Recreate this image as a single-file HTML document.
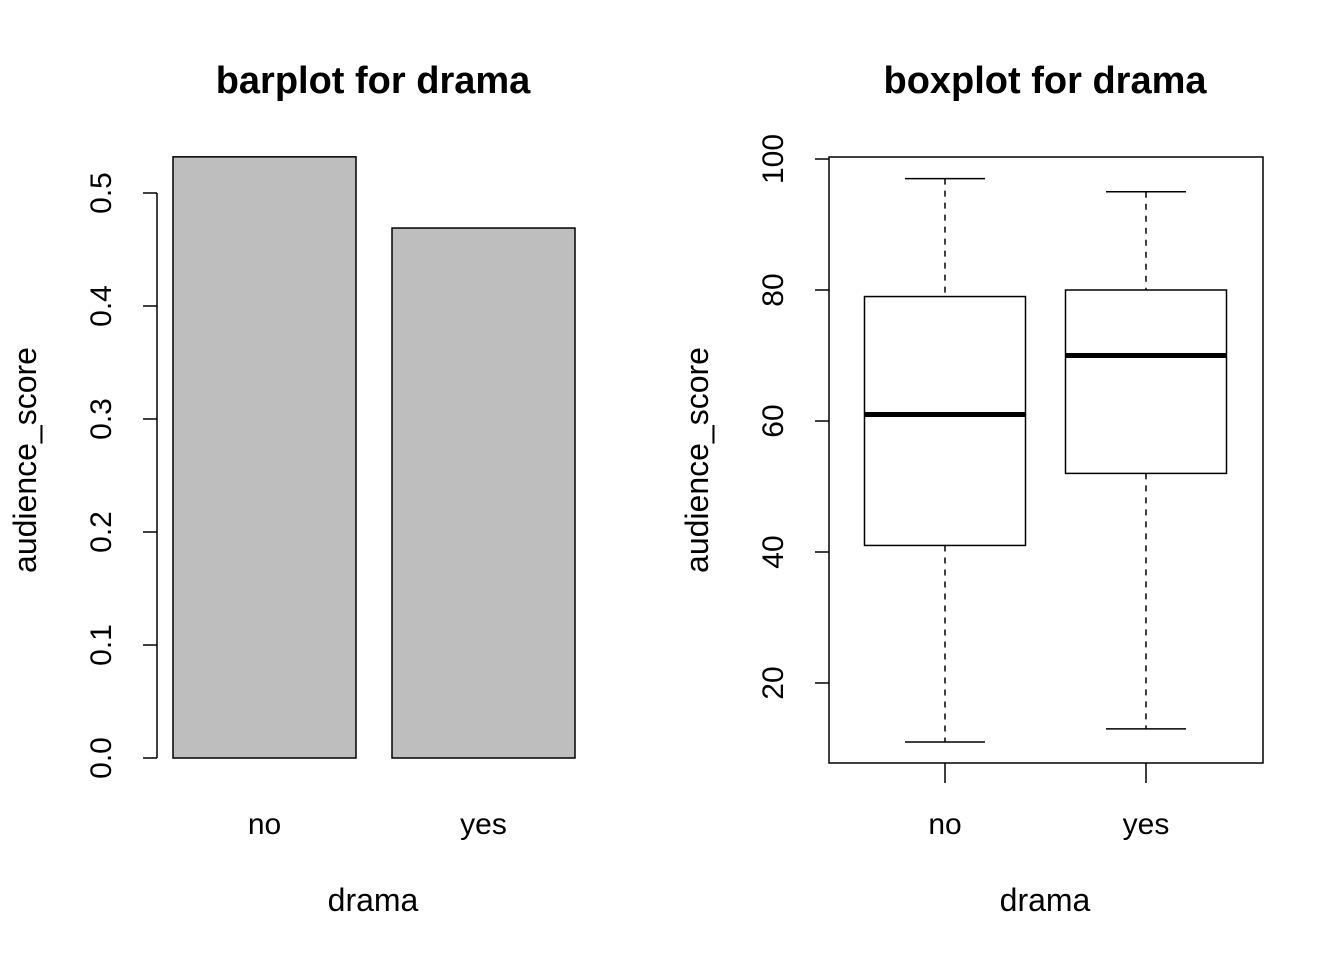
<!DOCTYPE html>
<html><head><meta charset="utf-8"><style>
html,body{margin:0;padding:0;background:#fff;}
svg{display:block;font-family:"Liberation Sans",Arial,sans-serif;}
</style></head><body>
<svg id="c" width="1344" height="960" viewBox="0 0 1344 960"></svg>
<script>
const barCategories=["no","yes"];
const barValues=[0.532,0.469];
const barTicks=[0,0.1,0.2,0.3,0.4,0.5];
const boxCategories=["no","yes"];
const boxMin=[11,13];
const boxQ1=[41,52];
const boxMedian=[61,70];
const boxQ3=[79,80];
const boxMax=[97,95];
const boxTicks=[20,40,60,80,100];

const svg=document.getElementById('c');
const NS='http://www.w3.org/2000/svg';
function mk(tag,attrs,parent){const e=document.createElementNS(NS,tag);for(const k in attrs)e.setAttribute(k,attrs[k]);(parent||svg).appendChild(e);return e;}
function txt(s,x,y,size,opts,parent){const t=mk('text',Object.assign({x:x,y:y,'font-size':size,'text-anchor':'middle',fill:'#000'},opts||{}),parent);t.textContent=s;return t;}

// ---- Barplot ----
const g1=mk('g',{});


const by=v=>758-v*1130;
let t=txt('barplot for drama',373,93,38,{'font-weight':'bold'},g1);

t=txt('drama',373,911,32,{},g1);

t=txt('audience_score',36,460,32,{transform:'rotate(-90 36 460)'},g1);

let ax=mk('line',{x1:157,x2:157,y1:by(barTicks[0]),y2:by(barTicks[barTicks.length-1]),stroke:'#000','stroke-width':1.5},g1);

barTicks.forEach(v=>{
  const y=by(v);
  const l=mk('line',{x1:143,x2:157,y1:y,y2:y,stroke:'#000','stroke-width':1.5},g1);
  
  const tl=txt(v.toFixed(1),111,y,30,{transform:`rotate(-90 111 ${y})`},g1);
  
});
const barX0=173,barW=183,barGap=36;
barCategories.forEach((c,i)=>{
  const x=barX0+i*(barW+barGap);
  const r=mk('rect',{x:x,y:by(barValues[i]),width:barW,height:by(0)-by(barValues[i]),fill:'#bebebe',stroke:'#000','stroke-width':1.5},g1);
  
  const tl=txt(c,x+barW/2,834,30,{},g1);
  
});

// ---- Boxplot ----
const g2=mk('g',{});


const yy=v=>814-v*6.55;
t=txt('boxplot for drama',1045,93,38,{'font-weight':'bold'},g2);

t=txt('drama',1045,911,32,{},g2);

t=txt('audience_score',708,460,32,{transform:'rotate(-90 708 460)'},g2);

const fr=mk('rect',{x:829,y:157,width:434,height:606,fill:'none',stroke:'#000','stroke-width':1.5},g2);

boxTicks.forEach(v=>{
  const y=yy(v);
  const l=mk('line',{x1:815,x2:829,y1:y,y2:y,stroke:'#000','stroke-width':1.5},g2);
  
  const tl=txt(String(v),783,y,30,{transform:`rotate(-90 783 ${y})`},g2);
  
});
const boxC0=945,boxStep=201,boxHW=80.5,capHW=40;
boxCategories.forEach((c,i)=>{
  const cx=boxC0+i*boxStep;
  const w1=mk('line',{x1:cx,x2:cx,y1:yy(boxMax[i]),y2:yy(boxQ3[i]),stroke:'#000','stroke-width':1.5,'stroke-dasharray':'6,6'},g2);
  
  const w2=mk('line',{x1:cx,x2:cx,y1:yy(boxQ1[i]),y2:yy(boxMin[i]),stroke:'#000','stroke-width':1.5,'stroke-dasharray':'6,6'},g2);
  
  const c1=mk('line',{x1:cx-capHW,x2:cx+capHW,y1:yy(boxMax[i]),y2:yy(boxMax[i]),stroke:'#000','stroke-width':1.5},g2);
  
  const c2=mk('line',{x1:cx-capHW,x2:cx+capHW,y1:yy(boxMin[i]),y2:yy(boxMin[i]),stroke:'#000','stroke-width':1.5},g2);
  
  const b=mk('rect',{x:cx-boxHW,y:yy(boxQ3[i]),width:boxHW*2,height:yy(boxQ1[i])-yy(boxQ3[i]),fill:'#fff',stroke:'#000','stroke-width':1.5},g2);
  
  const m=mk('line',{x1:cx-boxHW,x2:cx+boxHW,y1:yy(boxMedian[i]),y2:yy(boxMedian[i]),stroke:'#000','stroke-width':5},g2);
  
  const tk=mk('line',{x1:cx,x2:cx,y1:763,y2:783,stroke:'#000','stroke-width':1.5},g2);
  
  const tl=txt(c,cx,834,30,{},g2);
  
});
</script>
</body></html>
